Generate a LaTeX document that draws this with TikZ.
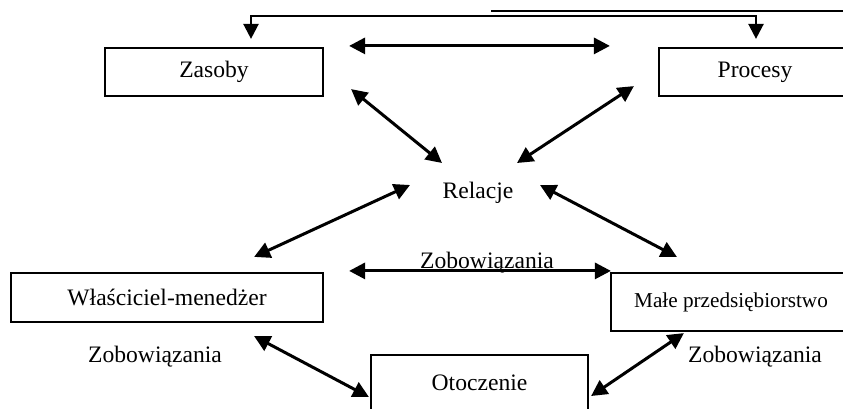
\documentclass[tikz,border=0pt]{standalone}
\usepackage{fontspec}
\setmainfont{Liberation Serif}
\usetikzlibrary{arrows.meta}
\begin{document}
\begin{tikzpicture}[x=1pt,y=1pt,
  box/.style={draw, line width=2.2pt, inner sep=0pt, font=\fontsize{23.6}{28}\selectfont},
  lbl/.style={inner sep=0pt, font=\fontsize{23.6}{28}\selectfont},
  dbl/.style={line width=3pt, {Triangle[length=16pt,width=16pt]}-{Triangle[length=16pt,width=16pt]}},
  lconn/.style={line width=2.4pt, {Triangle[length=15pt,width=15pt]}-{Triangle[length=15pt,width=15pt]}},
  thinline/.style={line width=1.6pt},
]
\clip (0,0) rectangle (843,-408);
% boxes
\node[box, minimum width=218pt, minimum height=48pt] (zasoby) at (214,-72) {Zasoby};
\node[box, minimum width=192pt, minimum height=48pt] (procesy) at (755,-72) {Procesy};
\node[box, minimum width=312pt, minimum height=49pt] (wlasc) at (167,-297.5) {Właściciel-menedżer};
\node[box, minimum width=240pt, minimum height=58pt, font=\fontsize{21.2}{26}\selectfont] (male) at (731,-302) {Małe przedsiębiorstwo};
\node[box, minimum width=217pt, minimum height=56pt] (otoczenie) at (479.5,-383) {Otoczenie};
% labels
\node[lbl, anchor=base] (relacje) at (478,-198) {Relacje};
\node[lbl, anchor=base] (zobTop) at (487,-268) {Zobowiązania};
\node[lbl, anchor=base] (zobLeft) at (155,-362) {Zobowiązania};
\node[lbl, anchor=base] (zobRight) at (755,-362) {Zobowiązania};
\coordinate (rc) at (478,-190);
% thin top line
\coordinate (t1) at (491,-11);
\coordinate (t2) at (843,-11);
\draw[thinline] (t1) -- (t2);
% top L connector
\draw[lconn, shorten <=8pt, shorten >=8pt] ([xshift=37pt]zasoby.north) -- ++(0,31) -| ([xshift=1pt]procesy.north);
% top double arrow
\draw[dbl] ([shift={(25pt,1pt)}]zasoby.north east) -- ([shift={(-48pt,1pt)}]procesy.north west);
% diagonals to Relacje
\draw[dbl] ([shift={(27pt,8pt)}]zasoby.south east) -- ([shift={(-36pt,27pt)}]rc);
\draw[dbl] ([shift={(-24pt,11pt)}]procesy.south west) -- ([shift={(39pt,27pt)}]rc);
\draw[dbl] ([shift={(-68pt,5pt)}]rc) -- ([shift={(-70pt,15pt)}]wlasc.north east);
\draw[dbl] ([shift={(62pt,5pt)}]rc) -- ([shift={(67pt,15pt)}]male.north west);
% middle double arrow
\draw[dbl] ([shift={(25pt,1pt)}]wlasc.north east) -- ([shift={(1pt,1pt)}]male.north west);
% to Otoczenie
\draw[dbl] ([shift={(-70pt,-13pt)}]wlasc.south east) -- ([shift={(-1pt,-14pt)}]otoczenie.west);
\draw[dbl] ([shift={(74pt,-1pt)}]male.south west) -- ([shift={(2pt,-13pt)}]otoczenie.east);
\end{tikzpicture}
\end{document}
